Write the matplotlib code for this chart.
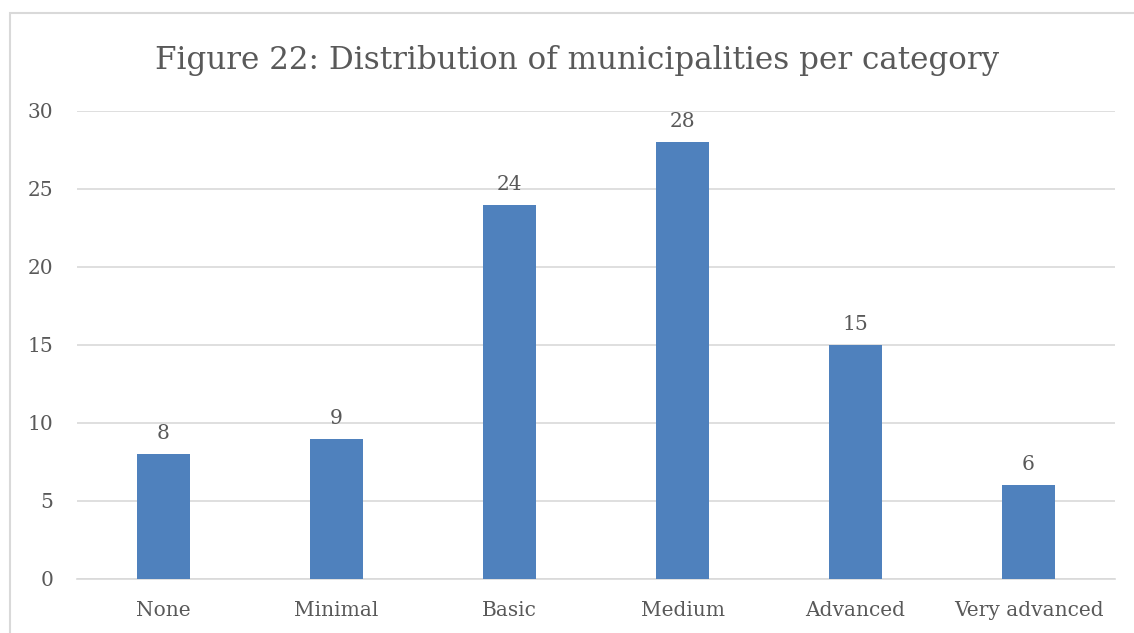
import matplotlib.pyplot as plt
from matplotlib.patches import Rectangle
import numpy as np

categories = ['None', 'Minimal', 'Basic', 'Medium', 'Advanced', 'Very advanced']
counts = [8, 9, 24, 28, 15, 6]
yticks = [0, 5, 10, 15, 20, 25, 30]

plt.rcParams['font.family'] = ['DejaVu Serif']
text_col = '#595959'

fig = plt.figure(figsize=(11.34, 6.33), dpi=100)
# outer chart frame (only left/top visible in the crop)
fig.patches.append(Rectangle((10 / 1134, -0.1), 1.2, 1 - 13 / 633 + 0.1,
                             transform=fig.transFigure, fill=False,
                             edgecolor='#D9D9D9', linewidth=1.5))

ax = fig.add_axes([77 / 1134, 1 - 579 / 633, (1115 - 77) / 1134, (579 - 111) / 633])
x = np.arange(len(categories))
bars = ax.bar(x, counts, width=0.31, color='#4F81BD', zorder=3)
for xi, v in zip(x, counts):
    ax.text(xi, v + 0.7, str(v), ha='center', va='bottom', fontsize=14.5, color=text_col)

ax.set_xlim(-0.5, len(categories) - 0.5)
ax.set_ylim(0, 30)
ax.set_yticks(yticks)
ax.set_xticks(x)
ax.set_xticklabels(categories)
ax.tick_params(axis='both', length=0, labelsize=14.5, colors=text_col)
ax.tick_params(axis='x', pad=16)
ax.tick_params(axis='y', pad=17)
ax.grid(axis='y', color='#D9D9D9', linewidth=1.2, zorder=0)
for s in ['top', 'right', 'left']:
    ax.spines[s].set_visible(False)
ax.spines['bottom'].set_color('#D9D9D9')
ax.spines['bottom'].set_linewidth(1.2)

fig.text(577 / 1134, 1 - 60 / 633, 'Figure 22: Distribution of municipalities per category',
         ha='center', va='center', fontsize=22.3, color=text_col)

plt.savefig('out.png', dpi=100)
